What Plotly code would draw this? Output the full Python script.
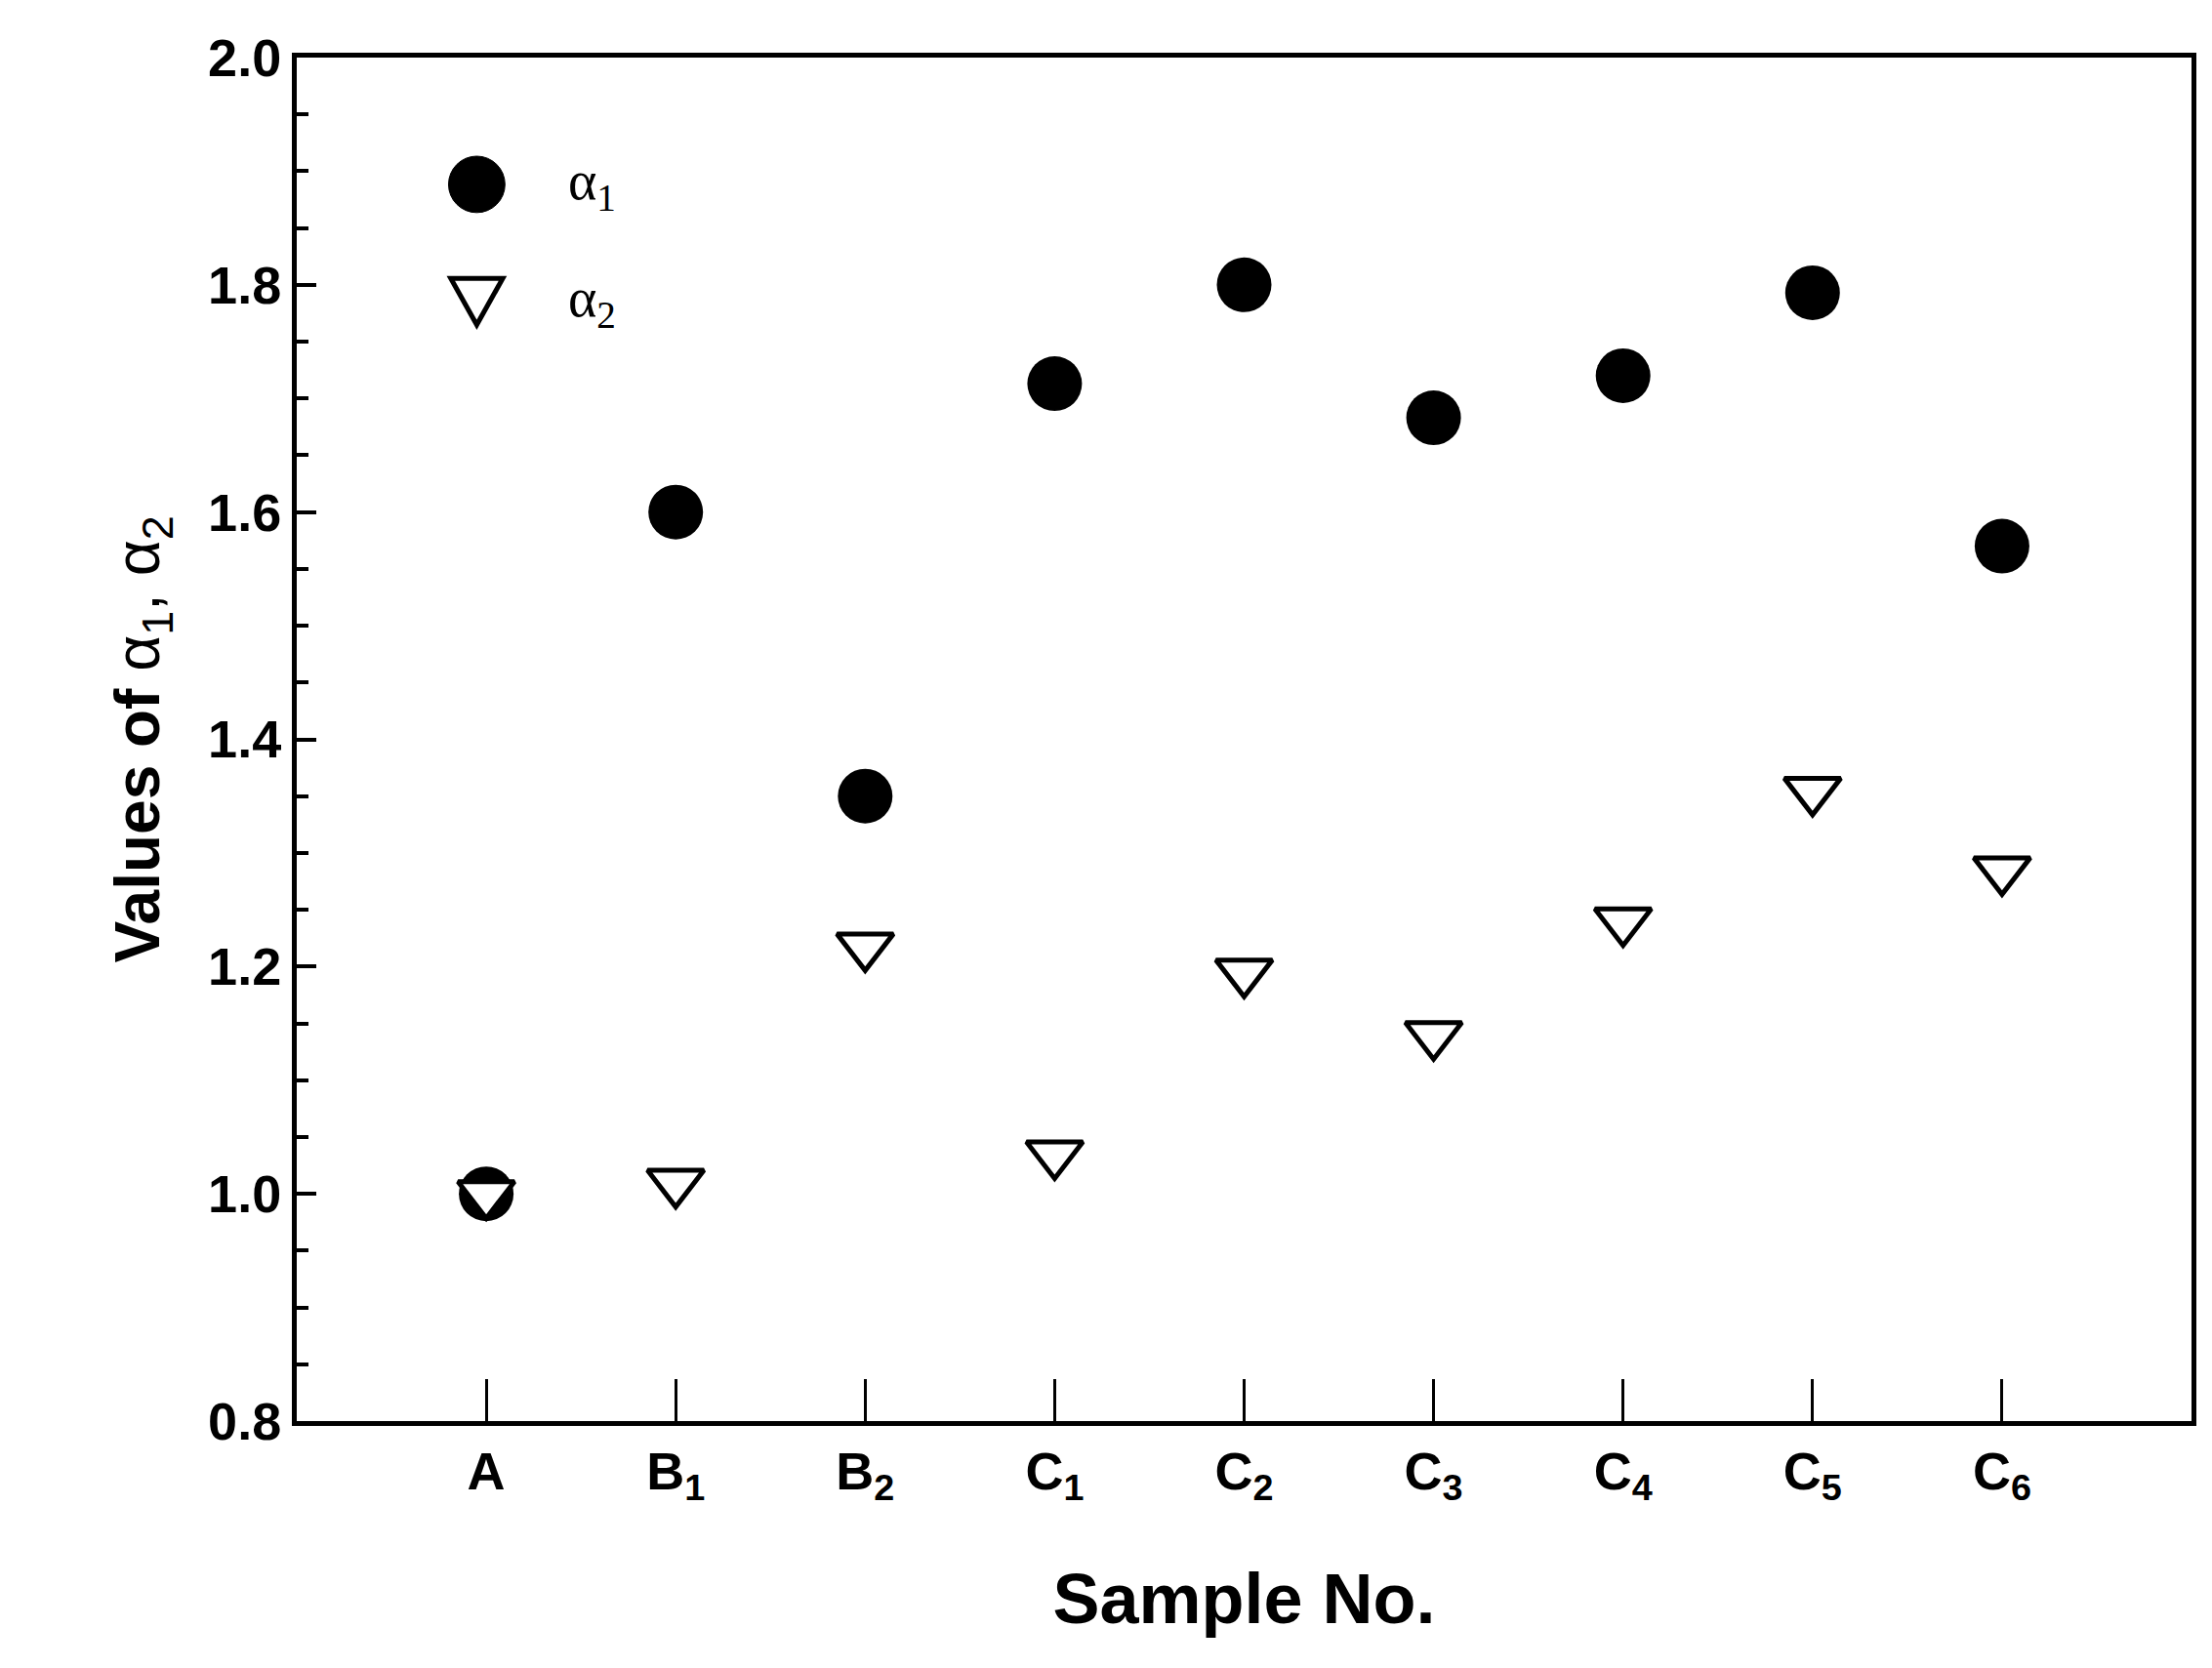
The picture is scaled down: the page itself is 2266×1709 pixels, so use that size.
import plotly.graph_objects as go

categories = ["A", "B<sub>1</sub>", "B<sub>2</sub>", "C<sub>1</sub>", "C<sub>2</sub>",
              "C<sub>3</sub>", "C<sub>4</sub>", "C<sub>5</sub>", "C<sub>6</sub>"]
positions = [1, 2, 3, 4, 5, 6, 7, 8, 9]
alpha1 = [1.0, 1.60, 1.35, 1.713, 1.80, 1.683, 1.72, 1.793, 1.57]
alpha2 = [1.0, 1.01, 1.218, 1.035, 1.195, 1.14, 1.24, 1.355, 1.285]
legend_labels = ["α<sub>1</sub>", "α<sub>2</sub>"]

font = "Liberation Sans Narrow, Liberation Sans, Arial"
fig = go.Figure()
fig.add_trace(go.Scatter(x=positions, y=alpha1, mode="markers", name=legend_labels[0],
                         showlegend=False,
                         marker=dict(symbol="circle", size=56, color="black")))
fig.add_trace(go.Scatter(x=positions, y=alpha2, mode="markers", name=legend_labels[1],
                         showlegend=False,
                         marker=dict(symbol="triangle-down", size=50, color="white",
                                     line=dict(color="black", width=5))))

# manual legend (paper coordinates)
cx, rx, ry = 0.095, 0.0149, 0.0207
y1, y2 = 0.907, 0.821
fig.add_shape(type="circle", xref="paper", yref="paper", x0=cx - rx, x1=cx + rx,
              y0=y1 - ry, y1=y1 + ry, fillcolor="black", line=dict(color="black", width=1))
tw, th = 0.0137, 0.017
fig.add_shape(type="path", xref="paper", yref="paper",
              path=f"M {cx - tw} {y2 + th} L {cx + tw} {y2 + th} L {cx} {y2 - th} Z",
              fillcolor="white", line=dict(color="black", width=5))
for lab, yy in zip(legend_labels, [y1, y2]):
    fig.add_annotation(x=0.142, y=yy, xref="paper", yref="paper", text=lab, showarrow=False,
                       xanchor="left", yanchor="middle",
                       font=dict(family="Liberation Serif", size=56, color="black"))

fig.update_layout(
    width=2266, height=1709, plot_bgcolor="white", paper_bgcolor="white",
    margin=dict(l=296, r=29, t=51, b=261),
    font=dict(family=font, color="black", size=56),
    showlegend=False,
    xaxis=dict(range=[0, 10], tickvals=positions, ticktext=["<b>%s</b>" % c for c in categories],
               ticks="inside", ticklen=43, tickwidth=3, tickcolor="black",
               showline=True, linewidth=5, linecolor="black", mirror=True, showgrid=False,
               zeroline=False, tickfont=dict(size=54),
               title=dict(text="<b>Sample No.</b>", font=dict(size=72), standoff=70)),
    yaxis=dict(range=[0.8, 2.0], tickvals=[0.8, 1.0, 1.2, 1.4, 1.6, 1.8, 2.0],
               ticktext=["<b>%.1f</b>" % v for v in [0.8, 1.0, 1.2, 1.4, 1.6, 1.8, 2.0]],
               ticks="inside", ticklen=20, tickwidth=4, tickcolor="black",
               minor=dict(dtick=0.05, ticks="inside", ticklen=12, tickwidth=4, tickcolor="black"),
               showline=True, linewidth=5, linecolor="black", mirror=True, showgrid=False,
               zeroline=False, tickfont=dict(size=54),
               title=dict(text="<b>Values of </b>α<sub>1</sub>, α<sub>2</sub>",
                          font=dict(size=64), standoff=30)),
)
fig.write_html("out.html")
